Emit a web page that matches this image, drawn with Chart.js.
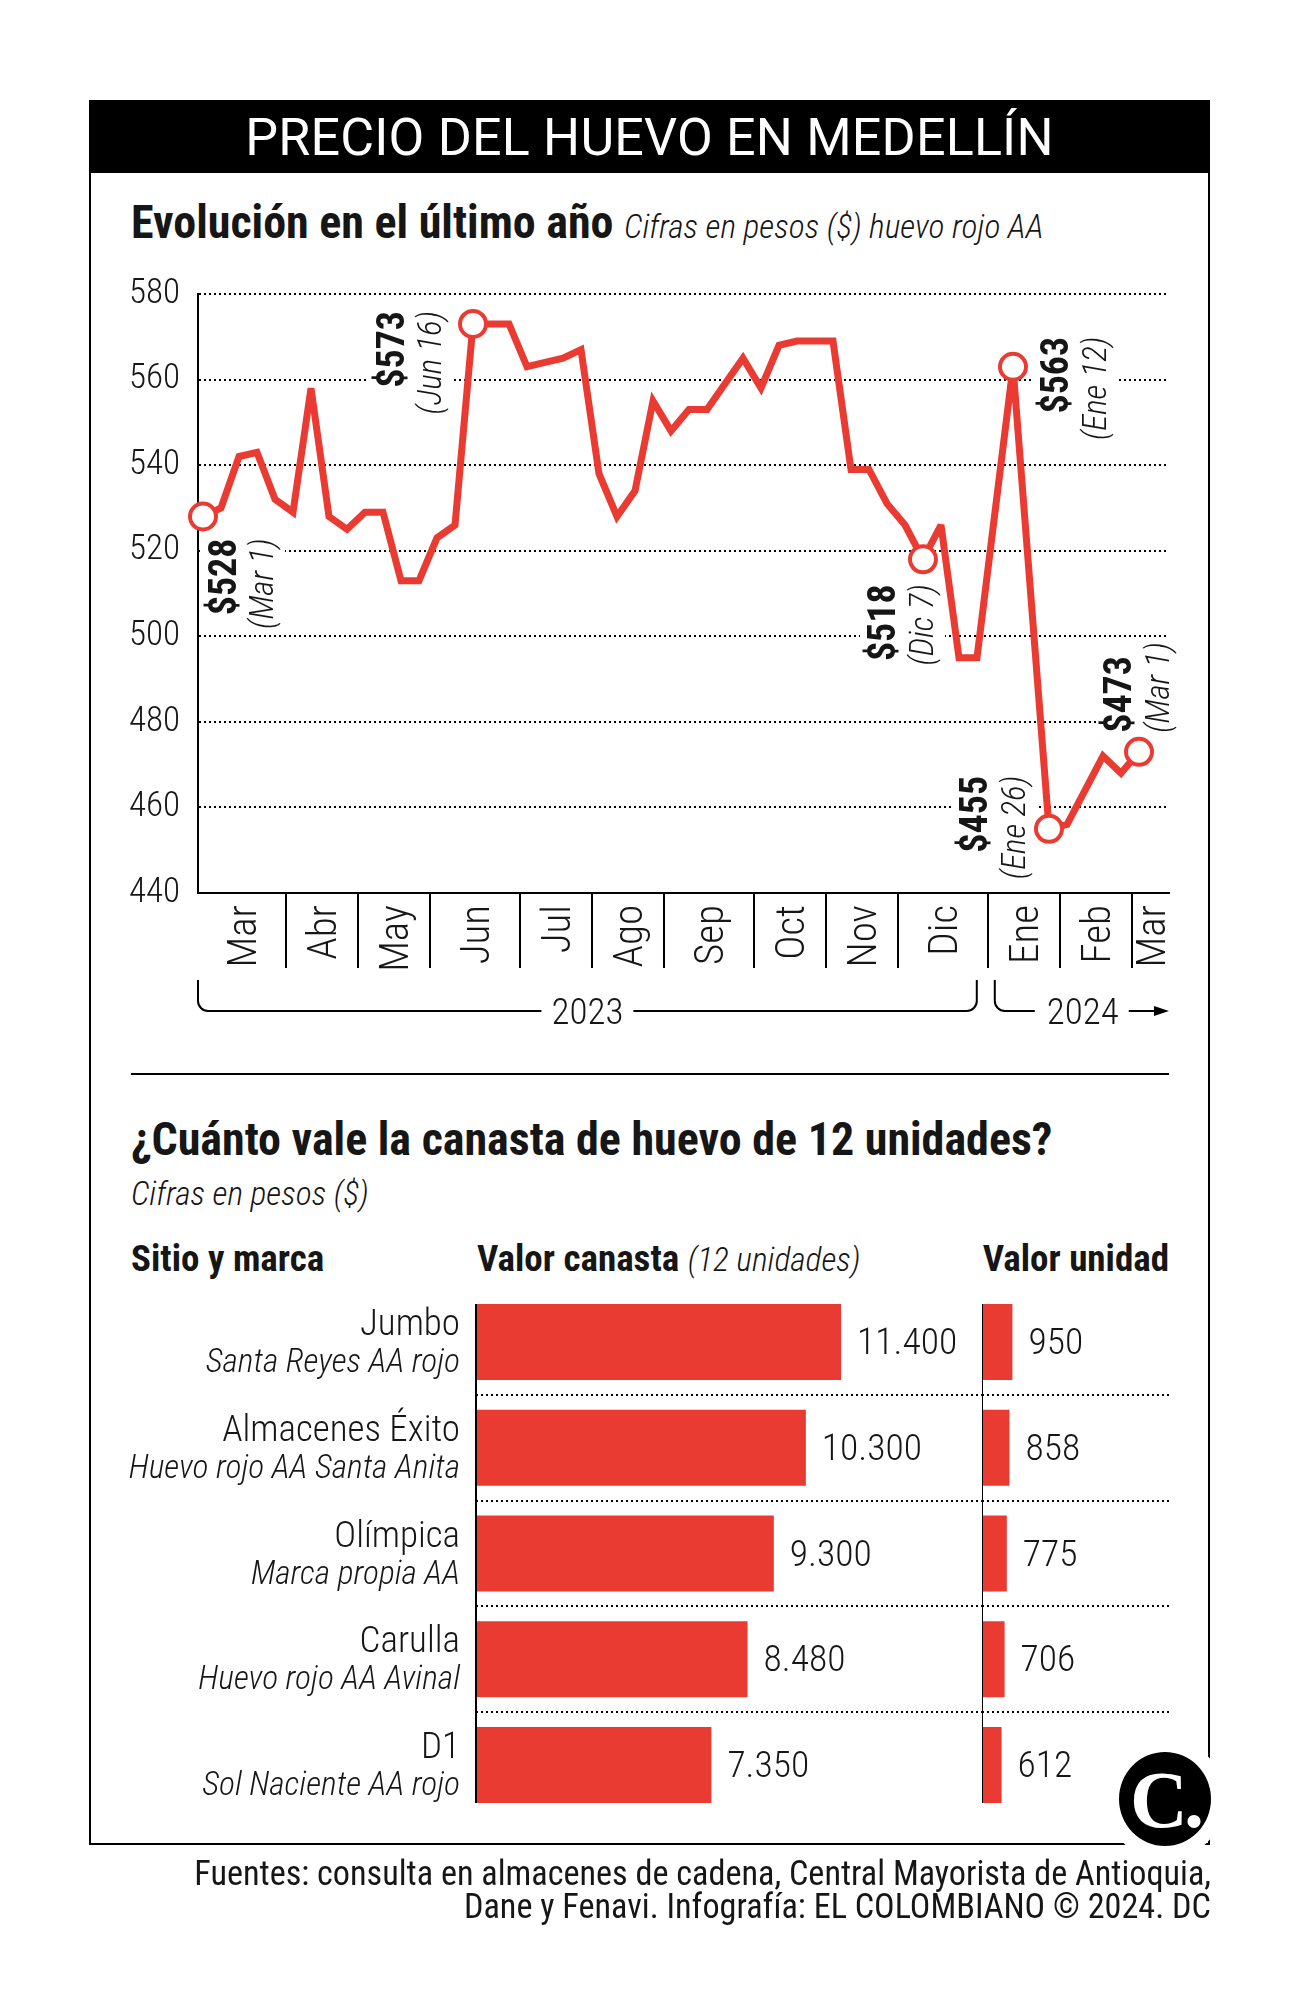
<!DOCTYPE html>
<html lang="es">
<head>
<meta charset="utf-8">
<title>Precio del huevo en Medellín</title>
<script src="https://cdn.jsdelivr.net/npm/chart.js@4.4.1/dist/chart.umd.min.js"></script>
<style>
  html, body { margin: 0; padding: 0; background: #fff; }
  body { width: 1302px; height: 1994px; position: relative; overflow: hidden;
         font-family: "Roboto Condensed", "Liberation Sans Narrow", Roboto, sans-serif; color: #161616; }
  .abs { position: absolute; white-space: nowrap; line-height: 1; }
  canvas { position: absolute; }
  #frame { position: absolute; left: 89px; top: 150px; width: 1121px; height: 1695px;
           box-sizing: border-box; border: 2px solid #000; border-top: none; }
  #head { left: 89px; top: 100px; width: 1121px; height: 73px; background: #000; overflow: hidden; }
  #head div { position: absolute; left: 0; right: 0; top: 12px; text-align: center; color: #fff;
              font-family: Roboto, sans-serif; font-size: 52px; letter-spacing: 0.2px; line-height: 1; }
  .ttl { font-size: 46px; font-weight: 700; }
  .sub { font-size: 33.5px; font-weight: 300; font-style: italic; }
  .hd { font-size: 37px; font-weight: 700; }
  #rule { position: absolute; left: 131px; top: 1073px; width: 1038px; height: 2px; background: #000; }
  #logo { position: absolute; left: 1105px; top: 1738px; width: 92px; height: 92px; border: 14px solid #fff;
          border-radius: 50%; background: #000; color: #fff; display: flex; align-items: center; justify-content: center;
          font-family: "Liberation Serif", "DejaVu Serif", serif; font-weight: 700; font-size: 80px; letter-spacing: -4px;
          line-height: 1; padding-top: 2px; box-sizing: content-box; }
  .foot { right: 91px; font-size: 34.2px; font-weight: 400; text-align: right; }
</style>
</head>
<body>
<div id="frame"></div>
<div id="head" class="abs"><div>PRECIO DEL HUEVO EN MEDELLÍN</div></div>
<div class="abs ttl" style="left:131px; top:199px">Evolución en el último año <span class="sub">Cifras en pesos ($) huevo rojo AA</span></div>

<canvas id="lineChart" width="1121" height="790" style="left:89px; top:260px"></canvas>

<div id="rule"></div>
<div class="abs ttl" style="left:131px; top:1116px">¿Cuánto vale la canasta de huevo de 12 unidades?</div>
<div class="abs sub" style="left:131px; top:1177px">Cifras en pesos ($)</div>
<div class="abs hd" style="left:131px; top:1240px">Sitio y marca</div>
<div class="abs hd" style="left:477px; top:1240px">Valor canasta <span class="sub">(12 unidades)</span></div>
<div class="abs hd" style="right:133px; top:1240px">Valor unidad</div>

<canvas id="barA" width="893" height="529" style="left:89px; top:1289px"></canvas>
<canvas id="barB" width="228" height="529" style="left:982px; top:1289px"></canvas>

<div id="logo">C.</div>
<div class="abs foot" style="top:1856px">Fuentes: consulta en almacenes de cadena, Central Mayorista de Antioquia,</div>
<div class="abs foot" style="top:1889px">Dane y Fenavi. Infografía: EL COLOMBIANO © 2024. DC</div>

<script>
// precio semanal del huevo rojo AA, índice 0 = 1 mar 2023
const prices = [528, 530, 542, 543, 532, 529, 558, 528, 525, 529, 529, 513, 513, 523, 526,
  573, 573, 573, 563, 564, 565, 567, 538, 528, 534, 555, 548, 553, 553, 559, 565, 558,
  568, 569, 569, 569, 539, 539, 531, 526, 518, 526, 495, 495, null, 563, null, 455,
  456, 464, 472, 468, 473];
const months = ['Mar', 'Abr', 'May', 'Jun', 'Jul', 'Ago', 'Sep', 'Oct', 'Nov', 'Dic', 'Ene', 'Feb', 'Mar'];
const monthStart = [0, 5, 9, 13, 18, 22, 26, 31, 35, 39, 44, 48, 52];
const years = ['2023', '2024'];
const yTicks = [440, 460, 480, 500, 520, 540, 560, 580];
const noteIdx = [0, 15, 40, 45, 47, 52];
const noteDates = ['Mar 1', 'Jun 16', 'Dic 7', 'Ene 12', 'Ene 26', 'Mar 1'];

const stores = ['Jumbo', 'Almacenes Éxito', 'Olímpica', 'Carulla', 'D1'];
const brands = ['Santa Reyes AA rojo', 'Huevo rojo AA Santa Anita', 'Marca propia AA', 'Huevo rojo AA Avinal', 'Sol Naciente AA rojo'];
const basket = [11400, 10300, 9300, 8480, 7350];
const unit = [950, 858, 775, 706, 612];

const RED = '#EA3B32';
const TXT = '#161616';
const FAM = '"Roboto Condensed", "Liberation Sans Narrow", Roboto, sans-serif';

// where each note sits relative to its point
const noteLayout = [
  { dx: 19, dy: 22, end: 'top' },
  { dx: -83, dy: -13, end: 'top' },
  { dx: -41, dy: 25, end: 'top' },
  { dx: 42, dy: -30, end: 'top' },
  { dx: -75, dy: -53, end: 'top' },
  { dx: -21, dy: -19, end: 'bottom' }
];

const fmt = v => String(v).replace(/\B(?=(\d{3})+(?!\d))/g, '.');
const noPad = s => { s.paddingTop = 0; s.paddingBottom = 0; s.paddingLeft = 0; s.paddingRight = 0; };

function vText(ctx, text, cx, y, font, capH, align) {
  ctx.save();
  ctx.font = font;
  ctx.translate(cx + capH / 2, y);
  ctx.rotate(-Math.PI / 2);
  ctx.textAlign = align;
  ctx.textBaseline = 'alphabetic';
  ctx.fillText(text, 0, 0);
  ctx.restore();
}

const lineDecor = {
  id: 'lineDecor',
  beforeDatasetsDraw(chart) {
    const { ctx, scales: { x, y } } = chart;
    const bold = '700 38px ' + FAM, ital = 'italic 300 33px ' + FAM;
    noteIdx.forEach((idx, k) => {
      const L = noteLayout[k];
      const px = x.getPixelForValue(idx), py = y.getPixelForValue(prices[idx]);
      const label = '$' + prices[idx], date = '(' + noteDates[k] + ')';
      const bx = px + L.dx, ix = bx + 41, ay = py + L.dy;
      ctx.save();
      ctx.font = bold; const w1 = ctx.measureText(label).width;
      ctx.font = ital; const w2 = ctx.measureText(date).width;
      const len = Math.max(w1, w2);
      // white patch that breaks the grid lines behind the note
      const top = L.end === 'top' ? ay - 8 : ay - len - 4;
      ctx.fillStyle = '#fff';
      ctx.fillRect(bx - 22, top, ix - bx + 44, len + 12);
      ctx.fillStyle = TXT;
      const al = L.end === 'top' ? 'right' : 'left';
      vText(ctx, label, bx, ay, bold, 27, al);
      vText(ctx, date, ix, ay, ital, 20, al);
      ctx.restore();
    });
  },
  beforeDatasetDraw(chart) {
    chart.ctx.miterLimit = 3;
  },
  afterDraw(chart) {
    const { ctx, chartArea: a, scales: { x } } = chart;
    ctx.save();
    ctx.fillStyle = TXT;
    // month names between the separators
    const edges = monthStart.map((s, i) => i === 0 ? a.left : x.getPixelForValue(s - 0.4));
    edges.push(a.right);
    months.forEach((m, i) => {
      const cx = (edges[i] + edges[i + 1]) / 2;
      vText(ctx, m, cx, a.bottom + 12, '300 41px ' + FAM, 29, 'right');
    });
    // year brackets
    const yLine = a.bottom + 118, yTop = a.bottom + 87, r = 10;
    const split = edges[10];
    const l1 = a.left, r1 = split - 11, l2 = split + 7;
    ctx.font = '300 37px ' + FAM;
    ctx.textBaseline = 'alphabetic';
    ctx.strokeStyle = '#000';
    ctx.lineWidth = 2;
    const t1 = years[0], w1 = ctx.measureText(t1).width, c1 = (l1 + r1) / 2;
    ctx.beginPath();
    ctx.moveTo(l1, yTop); ctx.lineTo(l1, yLine - r);
    ctx.arcTo(l1, yLine, l1 + r, yLine, r);
    ctx.lineTo(c1 - w1 / 2 - 10, yLine);
    ctx.moveTo(c1 + w1 / 2 + 10, yLine);
    ctx.lineTo(r1 - r, yLine);
    ctx.arcTo(r1, yLine, r1, yLine - r, r);
    ctx.lineTo(r1, yTop);
    ctx.stroke();
    ctx.textAlign = 'center';
    ctx.fillText(t1, c1, yLine + 13);
    const t2 = years[1], w2 = ctx.measureText(t2).width, s2 = l2 + 52;
    ctx.beginPath();
    ctx.moveTo(l2, yTop); ctx.lineTo(l2, yLine - r);
    ctx.arcTo(l2, yLine, l2 + r, yLine, r);
    ctx.lineTo(s2 - 12, yLine);
    ctx.moveTo(s2 + w2 + 10, yLine);
    ctx.lineTo(a.right - 12, yLine);
    ctx.stroke();
    ctx.beginPath();
    ctx.moveTo(a.right, yLine); ctx.lineTo(a.right - 15, yLine - 5); ctx.lineTo(a.right - 15, yLine + 5);
    ctx.closePath(); ctx.fillStyle = '#000'; ctx.fill();
    ctx.fillStyle = TXT;
    ctx.textAlign = 'left';
    ctx.fillText(t2, s2, yLine + 13);
    ctx.restore();
  }
};

new Chart(document.getElementById('lineChart'), {
  type: 'line',
  data: {
    datasets: [{
      data: prices.map((v, i) => ({ x: i, y: v })),
      borderColor: RED,
      borderWidth: 7,
      borderJoinStyle: 'miter',
      tension: 0,
      spanGaps: true,
      clip: false,
      pointRadius: prices.map((v, i) => noteIdx.includes(i) ? 13 : 0),
      pointBorderWidth: 4,
      pointBorderColor: RED,
      pointBackgroundColor: '#fff'
    }]
  },
  options: {
    responsive: false,
    devicePixelRatio: 1,
    animation: false,
    layout: { padding: { left: 0, right: 41, top: 34, bottom: 0 } },
    plugins: { legend: { display: false }, tooltip: { enabled: false } },
    scales: {
      x: {
        type: 'linear', min: -0.278, max: 53.667,
        afterBuildTicks: s => { s.ticks = monthStart.slice(1).map(v => ({ value: v - 0.4 })); },
        afterFit: s => { s.height = 157; noPad(s); },
        ticks: { display: false, autoSkip: false },
        grid: { drawOnChartArea: false, drawTicks: true, tickLength: 75, color: '#000', lineWidth: 2 },
        border: { display: true, color: '#000', width: 2 }
      },
      y: {
        min: 440, max: 580,
        afterBuildTicks: s => { s.ticks = yTicks.map(v => ({ value: v })); },
        afterFit: s => { s.width = 109; noPad(s); },
        ticks: { padding: 18, color: TXT, font: { family: FAM, size: 35, weight: 300 } },
        grid: { drawTicks: false, color: '#000', lineWidth: 2 },
        border: { display: true, color: '#000', width: 2, dash: [2, 3] }
      }
    }
  },
  plugins: [lineDecor]
});

const barDecor = {
  id: 'barDecor',
  afterDatasetsDraw(chart, args, opts) {
    const { ctx, chartArea: a, scales: { y } } = chart;
    const bars = chart.getDatasetMeta(0).data;
    const vals = chart.data.datasets[0].data;
    ctx.save();
    const first = bars[0], last = bars[bars.length - 1];
    ctx.strokeStyle = '#000';
    ctx.lineWidth = 2;
    ctx.beginPath();
    ctx.moveTo(a.left, first.y - first.height / 2);
    ctx.lineTo(a.left, last.y + last.height / 2);
    ctx.stroke();
    ctx.fillStyle = TXT;
    ctx.textBaseline = 'alphabetic';
    ctx.font = '300 37.5px ' + FAM;
    ctx.textAlign = 'left';
    bars.forEach((b, i) => ctx.fillText(fmt(vals[i]), b.x + 16, b.y + 12));
    if (opts.names) {
      ctx.textAlign = 'right';
      stores.forEach((s, i) => {
        const cy = y.getPixelForValue(i);
        ctx.font = '300 37px ' + FAM;
        ctx.fillText(s, a.left - 16, cy - 7);
        ctx.font = 'italic 300 33.5px ' + FAM;
        ctx.fillText(brands[i], a.left - 16, cy + 30);
      });
    }
    ctx.restore();
  }
};

function barChart(id, values, max, yWidth, padRight, names) {
  return new Chart(document.getElementById(id), {
    type: 'bar',
    data: {
      labels: stores,
      datasets: [{ data: values, backgroundColor: RED, borderWidth: 0, barPercentage: 0.718, categoryPercentage: 1 }]
    },
    options: {
      indexAxis: 'y',
      responsive: false,
      devicePixelRatio: 1,
      animation: false,
      layout: { padding: { left: 0, right: padRight, top: 0, bottom: 0 } },
      plugins: { legend: { display: false }, tooltip: { enabled: false }, barDecor: { names } },
      scales: {
        x: { min: 0, max, display: false },
        y: {
          afterFit: s => { s.width = yWidth; noPad(s); },
          ticks: { display: false },
          grid: {
            drawTicks: false, lineWidth: 2,
            color: c => (c.index >= 1 && c.index <= stores.length - 1) ? '#000' : 'rgba(0,0,0,0)'
          },
          border: { display: false, dash: [2, 3] }
        }
      }
    },
    plugins: [barDecor]
  });
}

barChart('barA', basket, 15800, 387, 0, true);
barChart('barB', unit, 5840, 0, 41, false);
</script>
</body>
</html>
